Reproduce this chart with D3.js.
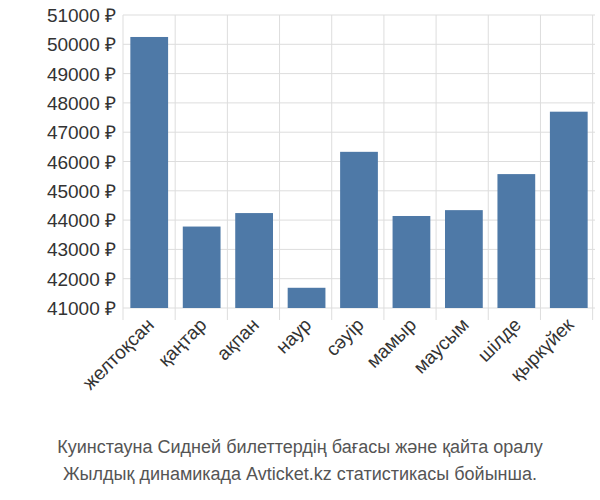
<!DOCTYPE html>
<html><head><meta charset="utf-8">
<script src="https://cdn.jsdelivr.net/npm/d3@7"></script>
<style>body{margin:0;background:#fff;font-family:"Liberation Sans",Arial,sans-serif}</style>
</head><body>
<script>
const months = ["желтоқсан", "қаңтар", "ақпан", "наур", "сәуір", "мамыр", "маусым", "шілде", "қыркүйек"];
const prices = [50250, 43780, 44240, 41690, 46330, 44140, 44340, 45570, 47700];
const yTicks = [41000, 42000, 43000, 44000, 45000, 46000, 47000, 48000, 49000, 50000, 51000];
const caption = ["Куинстауна Сидней билеттердің бағасы және қайта оралу", "Жылдық динамикада Avticket.kz статистикасы бойынша."];

const svg = d3.select("body").append("svg").attr("width", 600).attr("height", 500);
const m = {left: 123, right: 595, top: 15, bottom: 308};

const x = d3.scaleBand().domain(months).range([m.left, m.right]).paddingInner(0.28).paddingOuter(0.14);
const y = d3.scaleLinear().domain([41000, 51000]).range([m.bottom, m.top]);

// grid
svg.append("g").selectAll("line").data(yTicks).enter().append("line")
   .attr("x1", m.left).attr("x2", m.right)
   .attr("y1", d => y(d)).attr("y2", d => y(d))
   .attr("stroke", "#ddd");
const step = x.step();
svg.append("g").selectAll("line").data(d3.range(months.length + 1)).enter().append("line")
   .attr("x1", i => m.left + i * step * 0.995).attr("x2", i => m.left + i * step * 0.995)
   .attr("y1", m.top).attr("y2", m.bottom + 12)
   .attr("stroke", "#ddd");

// bars
svg.append("g").selectAll("rect").data(prices).enter().append("rect")
   .attr("x", (d, i) => x(months[i]))
   .attr("width", x.bandwidth())
   .attr("y", d => y(d))
   .attr("height", d => m.bottom - y(d))
   .attr("fill", "#4e79a7");

// y labels
svg.append("g").selectAll("text").data(yTicks).enter().append("text")
   .attr("x", 116).attr("y", d => y(d) + 7)
   .attr("text-anchor", "end").attr("font-size", 19).attr("fill", "#333")
   .text(d => d + " ₽");

// x labels
svg.append("g").selectAll("text").data(months).enter().append("text")
   .attr("transform", d => "translate(" + (x(d) + x.bandwidth() / 2 + 6) + "," + (m.bottom + 18) + ") rotate(-45)")
   .attr("text-anchor", "end").attr("font-size", 19).attr("fill", "#333")
   .text(d => d);

// caption
svg.append("g").selectAll("text").data(caption).enter().append("text")
   .attr("x", 300).attr("y", (d, i) => 453 + i * 27)
   .attr("text-anchor", "middle").attr("font-size", 18).attr("fill", "#555")
   .text(d => d);
</script>
</body></html>
